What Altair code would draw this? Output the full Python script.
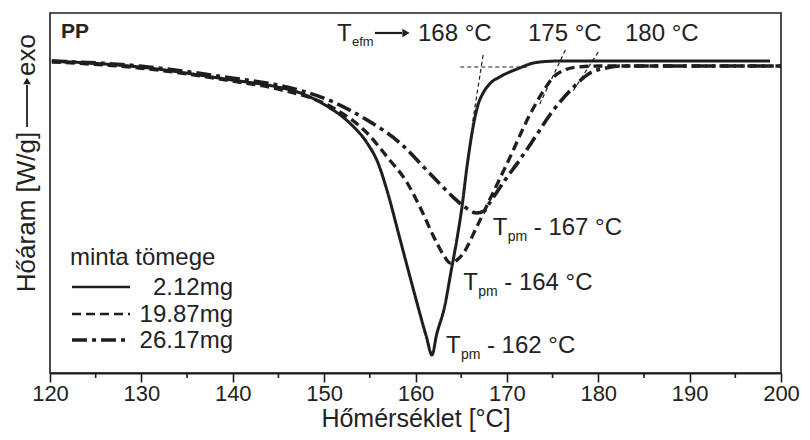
import altair as alt
import pandas as pd

# ---------------- data ----------------
masses = ["2.12mg", "19.87mg", "26.17mg"]

t_212 = [120.2, 129.8, 139.9, 144.9, 147.4, 150.1, 152.8, 154.7, 155.9, 156.9, 158.3, 159.9,
         161.2, 161.8, 162.3, 163.2, 163.9, 164.5, 165.1, 165.6, 166.3, 166.8, 167.4, 168.1,
         169.2, 170.3, 171.4, 172.5, 173.6, 175.8, 198.8]
hf_212 = [0.00, -0.06, -0.19, -0.26, -0.32, -0.44, -0.62, -0.82, -1.02, -1.30, -1.78, -2.33,
          -2.76, -2.94, -2.74, -2.45, -2.10, -1.80, -1.45, -1.08, -0.66, -0.45, -0.32, -0.23,
          -0.16, -0.11, -0.07, -0.03, -0.01, 0.00, 0.00]

t_1987 = [120.2, 129.8, 139.9, 144.9, 151.0, 154.7, 156.9, 159.1, 160.8, 161.9, 163.0, 163.8,
          164.4, 165.1, 166.7, 168.1, 170.1, 172.5, 174.2, 175.0, 176.3, 177.7, 180.2, 200.0]
hf_1987 = [-0.01, -0.07, -0.20, -0.28, -0.47, -0.72, -0.96, -1.22, -1.52, -1.74, -1.93, -2.02,
           -2.00, -1.94, -1.66, -1.39, -1.01, -0.54, -0.27, -0.17, -0.09, -0.06, -0.05, -0.05]

t_2617 = [120.2, 129.8, 139.9, 144.9, 151.0, 154.7, 158.3, 161.2, 163.0, 164.1, 165.4, 166.7,
          167.5, 168.1, 169.8, 171.4, 173.1, 174.7, 177.2, 179.1, 180.9, 182.4, 200.0]
hf_2617 = [0.00, -0.05, -0.17, -0.24, -0.41, -0.59, -0.82, -1.09, -1.26, -1.36, -1.46, -1.52,
           -1.50, -1.42, -1.19, -0.99, -0.76, -0.54, -0.27, -0.12, -0.07, -0.05, -0.05]

peak_T = [161.8, 163.8, 166.7]
peak_hf = [-2.94, -2.02, -1.52]
peak_labels = ["162", "164", "167"]

onset_labels = ["168 °C", "175 °C", "180 °C"]

# construction (tangent) lines
tan_T1 = [164.9, 167.4, 176.4, 180.0]
tan_T2 = [172.2, 166.2, 173.6, 177.1]
tan_hf1 = [-0.06, 0.06, 0.11, 0.09]
tan_hf2 = [-0.06, -0.64, -0.43, -0.32]

major_ticks = list(range(120, 201, 10))
minor_ticks = list(range(125, 200, 10))

# ---------------- styling ----------------
INK = "#1e1e1e"
TXT = "#222222"
FONT = "Liberation Sans, Arial, sans-serif"
W, H = 731, 360

rows = []
for m, ts, hs in zip(masses, [t_212, t_1987, t_2617], [hf_212, hf_1987, hf_2617]):
    for t, h in zip(ts, hs):
        rows.append({"mass": m, "T": t, "hf": h})
df = pd.DataFrame(rows)

xscale = alt.Scale(domain=[120, 200], nice=False, zero=False)
yscale = alt.Scale(domain=[-3.12, 0.48], nice=False, zero=False)

X = alt.X("T:Q", scale=xscale, title="Hőmérséklet [°C]",
          axis=alt.Axis(values=major_ticks, grid=False, labelFlush=False, tickSize=9, tickWidth=1.6,
                        tickColor=INK, domainColor=INK, domainWidth=2.2, labelFont=FONT,
                        labelFontSize=22, labelColor=TXT, labelPadding=1, titleFont=FONT,
                        titleFontSize=25, titleFontWeight="normal", titleColor=TXT, titlePadding=2))
Y = alt.Y("hf:Q", scale=yscale, axis=None)

dash_scale = alt.Scale(domain=masses, range=[[1, 0], [9, 5], [15, 5, 4, 5]])
width_scale = alt.Scale(domain=masses, range=[3.0, 3.6, 3.6])

curves = alt.Chart(df).mark_line(color=INK, interpolate="monotone", strokeCap="butt").encode(
    x=X, y=Y,
    strokeDash=alt.StrokeDash("mass:N", scale=dash_scale, legend=None),
    strokeWidth=alt.StrokeWidth("mass:N", scale=width_scale, legend=None),
    detail="mass:N",
)

tan_df = pd.DataFrame({"T1": tan_T1, "T2": tan_T2, "h1": tan_hf1, "h2": tan_hf2})
tangents = alt.Chart(tan_df).mark_rule(color=INK, strokeWidth=1.2, strokeDash=[4, 3]).encode(
    x=alt.X("T1:Q", scale=xscale), x2="T2:Q",
    y=alt.Y("h1:Q", scale=yscale), y2="h2:Q",
)

minor = alt.Chart(pd.DataFrame({"T": minor_ticks})).mark_rule(color=INK, strokeWidth=1.6).encode(
    x=alt.X("T:Q", scale=xscale), y=alt.value(H), y2=alt.value(H + 5)
)

# peak labels anchored at the peak points
pk = pd.DataFrame({"T": peak_T, "hf": peak_hf,
                   "rest": ["- " + p + " °C" for p in peak_labels]})
pk_dx = [14, 13, 16]
pk_dy = [-2, 27, 22]
peak_layers = []
for i in range(3):
    d = pk.iloc[[i]]
    dx0 = pk_dx[i]; dy0 = pk_dy[i]
    base = alt.Chart(d).encode(x=alt.X("T:Q", scale=xscale), y=alt.Y("hf:Q", scale=yscale))
    peak_layers.append(base.mark_text(text="T", align="left", baseline="alphabetic", font=FONT,
                                      fontSize=24, color=TXT, dx=dx0, dy=dy0))
    peak_layers.append(base.mark_text(text="pm", align="left", baseline="alphabetic", font=FONT,
                                      fontSize=14, color=TXT, dx=dx0 + 15, dy=dy0 + 6))
    peak_layers.append(base.mark_text(align="left", baseline="alphabetic", font=FONT,
                                      fontSize=24, color=TXT, dx=dx0 + 41, dy=dy0).encode(text="rest:N"))

one = pd.DataFrame({"a": [0]})


def ptext(txt, x, y, size=24, weight="normal", align="left", angle=0, baseline="alphabetic", font=FONT):
    return alt.Chart(one).mark_text(text=txt, align=align, baseline=baseline, font=font,
                                    fontSize=size, fontWeight=weight, color=TXT, angle=angle).encode(
        x=alt.value(x), y=alt.value(y))


def prule(x, y, x2, y2, width=2.0, dash=None):
    kw = dict(color=INK, strokeWidth=width)
    if dash is not None:
        kw["strokeDash"] = dash
    return alt.Chart(one).mark_rule(**kw).encode(
        x=alt.value(x), y=alt.value(y), x2=alt.value(x2), y2=alt.value(y2))


def ptri(x, y, shape, size):
    return alt.Chart(one).mark_point(shape=shape, filled=True, color=INK, size=size, opacity=1).encode(
        x=alt.value(x), y=alt.value(y))


annot = [
    ptext("PP", 11, 25, size=21, weight="bold"),
    ptext("T", 287, 28),
    ptext("efm", 302, 33, size=13),
    prule(325, 20, 352, 20, width=2.2),
    ptri(356, 20, "triangle-right", 70),
    ptext(onset_labels[0], 368, 28),
    ptext(onset_labels[1], 478, 28),
    ptext(onset_labels[2], 575, 28),
]

# legend (hand-made, like the reference)
legend = [ptext("minta tömege", 20, 252)]
leg_y = [274, 301, 327]
for m, yy, dsh, wd in zip(masses, leg_y, [[1, 0], [9, 5], [15, 5, 4, 5]], [2.6, 2.6, 3.6]):
    legend.append(prule(22, yy, 80, yy, width=wd, dash=dsh))
    legend.append(ptext(m, 183, yy + 8, align="right"))

# y-axis title with arrow
ytitle = [
    ptext("Hőáram [W/g]", -23, 199, size=26, angle=270, align="center", baseline="middle"),
    prule(-23, 114, -23, 72, width=1.8),
    ptri(-23, 68, "triangle-up", 60),
    ptext("exo", -23, 42, size=26, angle=270, align="center", baseline="middle"),
]

chart = alt.layer(curves, tangents, minor, *peak_layers, *annot, *legend, *ytitle).properties(
    width=W, height=H,
    autosize=alt.AutoSizeParams(type="none"),
    padding={"left": 50, "top": 13, "right": 29, "bottom": 67},
    background="white",
).configure_view(stroke=INK, strokeWidth=1.6)

chart.save("out.html", embed_options={"renderer": "svg", "actions": False})
